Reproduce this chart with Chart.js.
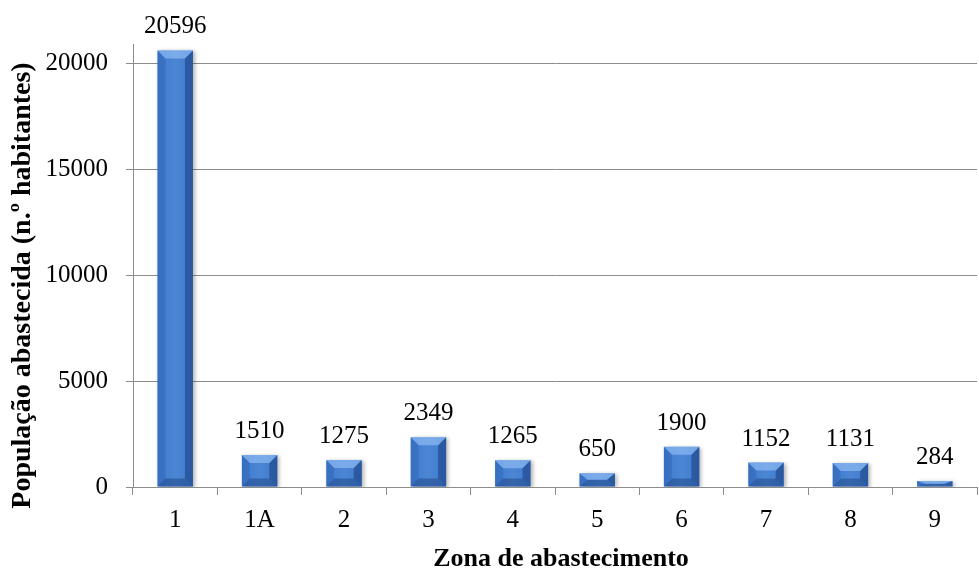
<!DOCTYPE html>
<html><head><meta charset="utf-8">
<script src="https://cdn.jsdelivr.net/npm/chart.js@4/dist/chart.umd.min.js"></script>
<style>html,body{margin:0;padding:0;background:#fff}#wrap{width:979px;height:570px;position:relative}</style>
</head><body><div id="wrap"><canvas id="c"></canvas></div>
<script>
const categories = ['1','1A','2','3','4','5','6','7','8','9'];
const population = [20596,1510,1275,2349,1265,650,1900,1152,1131,284];
const yTicks = [0,5000,10000,15000,20000];
const xTitle = 'Zona de abastecimento';
const yTitle = 'População abastecida (n.º habitantes)';

const SERIF = "'Liberation Serif','Times New Roman',serif";
const GRID = '#8c8c8c';

const bevelPlugin = {
  id: 'bevel',
  beforeDatasetsDraw(chart) {
    const ctx = chart.ctx;
    ctx.save();
    ctx.shadowColor = 'rgba(0,0,0,0.30)';
    ctx.shadowBlur = 4;
    ctx.shadowOffsetX = 2;
    ctx.shadowOffsetY = 1;
  },
  afterDatasetsDraw(chart) {
    const ctx = chart.ctx;
    ctx.restore();
    const meta = chart.getDatasetMeta(0);
    meta.data.forEach((bar, i) => {
      const l = bar.x - bar.width / 2, r = bar.x + bar.width / 2;
      const t = Math.min(bar.y, bar.base), b = Math.max(bar.y, bar.base);
      const h = b - t;
      const dy = Math.min(8, h / 2), dx = Math.min(8, bar.width / 2);
      const poly = (pts, col) => {
        ctx.beginPath();
        ctx.moveTo(pts[0][0], pts[0][1]);
        for (let k = 1; k < pts.length; k++) ctx.lineTo(pts[k][0], pts[k][1]);
        ctx.closePath();
        ctx.fillStyle = col;
        ctx.fill();
      };
      ctx.save();
      const g = ctx.createLinearGradient(l, 0, r, 0);
      g.addColorStop(0, 'rgba(255,255,255,0)');
      g.addColorStop(0.5, 'rgba(255,255,255,0.08)');
      g.addColorStop(1, 'rgba(255,255,255,0)');
      ctx.fillStyle = g;
      ctx.fillRect(l, t, r - l, h);
      poly([[l,t],[l+dx,t+dy],[l+dx,b-dy],[l,b]], 'rgba(30,70,140,0.22)');
      poly([[r,t],[r-dx,t+dy],[r-dx,b-dy],[r,b]], 'rgba(15,40,95,0.42)');
      poly([[l,b],[r,b],[r-dx,b-dy],[l+dx,b-dy]], 'rgba(15,40,95,0.35)');
      poly([[l,t],[r,t],[r-dx,t+dy],[l+dx,t+dy]], 'rgba(170,210,255,0.50)');
      ctx.restore();
      ctx.save();
      ctx.font = '25px ' + SERIF;
      ctx.fillStyle = '#000';
      ctx.textAlign = 'center';
      ctx.textBaseline = 'alphabetic';
      ctx.fillText(String(population[i]), bar.x, t - 17);
      ctx.restore();
    });
  }
};

// axis titles, centred like the original (slightly offset from the plot centre)
const axisTitlePlugin = {
  id: 'axisTitles',
  afterDraw(chart) {
    const ctx = chart.ctx, a = chart.chartArea;
    ctx.save();
    ctx.fillStyle = '#000';
    ctx.textAlign = 'center';
    ctx.textBaseline = 'alphabetic';
    ctx.font = 'bold 26px ' + SERIF;
    ctx.fillText(xTitle, (a.left + a.right) / 2 + 6, 566);
    ctx.translate(23, (a.top + a.bottom) / 2 + 20);
    ctx.rotate(-Math.PI / 2);
    ctx.textBaseline = 'middle';
    ctx.font = 'bold 28px ' + SERIF;
    ctx.fillText(yTitle, 0, 0);
    ctx.restore();
  }
};

new Chart(document.getElementById('c'), {
  type: 'bar',
  data: {
    labels: categories,
    datasets: [{
      data: population,
      backgroundColor: '#3D7BD0',
      borderWidth: 0,
      categoryPercentage: 1,
      barPercentage: 0.42
    }]
  },
  options: {
    responsive: true,
    maintainAspectRatio: false,
    animation: false,
    layout: { padding: { top: 44, right: 2, left: 0, bottom: 0 } },
    plugins: { legend: { display: false }, tooltip: { enabled: false } },
    scales: {
      x: {
        offset: true,
        grid: { display: true, drawOnChartArea: false, drawTicks: true, tickLength: 8, color: GRID, offset: true },
        border: { display: true, color: GRID, width: 1 },
        ticks: { color: '#000', font: { family: SERIF, size: 25 }, padding: 10, maxRotation: 0 },
        title: { display: false, text: xTitle },
        afterFit(scale) { scale.height = 83; }
      },
      y: {
        min: 0,
        max: 20900,
        afterBuildTicks(scale) { scale.ticks = yTicks.map(v => ({ value: v })); },
        grid: { color: GRID, lineWidth: 1, tickLength: 7, drawTicks: true },
        border: { display: true, color: GRID, width: 1 },
        ticks: { color: '#000', font: { family: SERIF, size: 25 }, padding: 18, callback: v => String(v) },
        title: { display: false, text: yTitle },
        afterFit(scale) { scale.width = 133; }
      }
    }
  },
  plugins: [bevelPlugin, axisTitlePlugin]
});
</script>
</body></html>
